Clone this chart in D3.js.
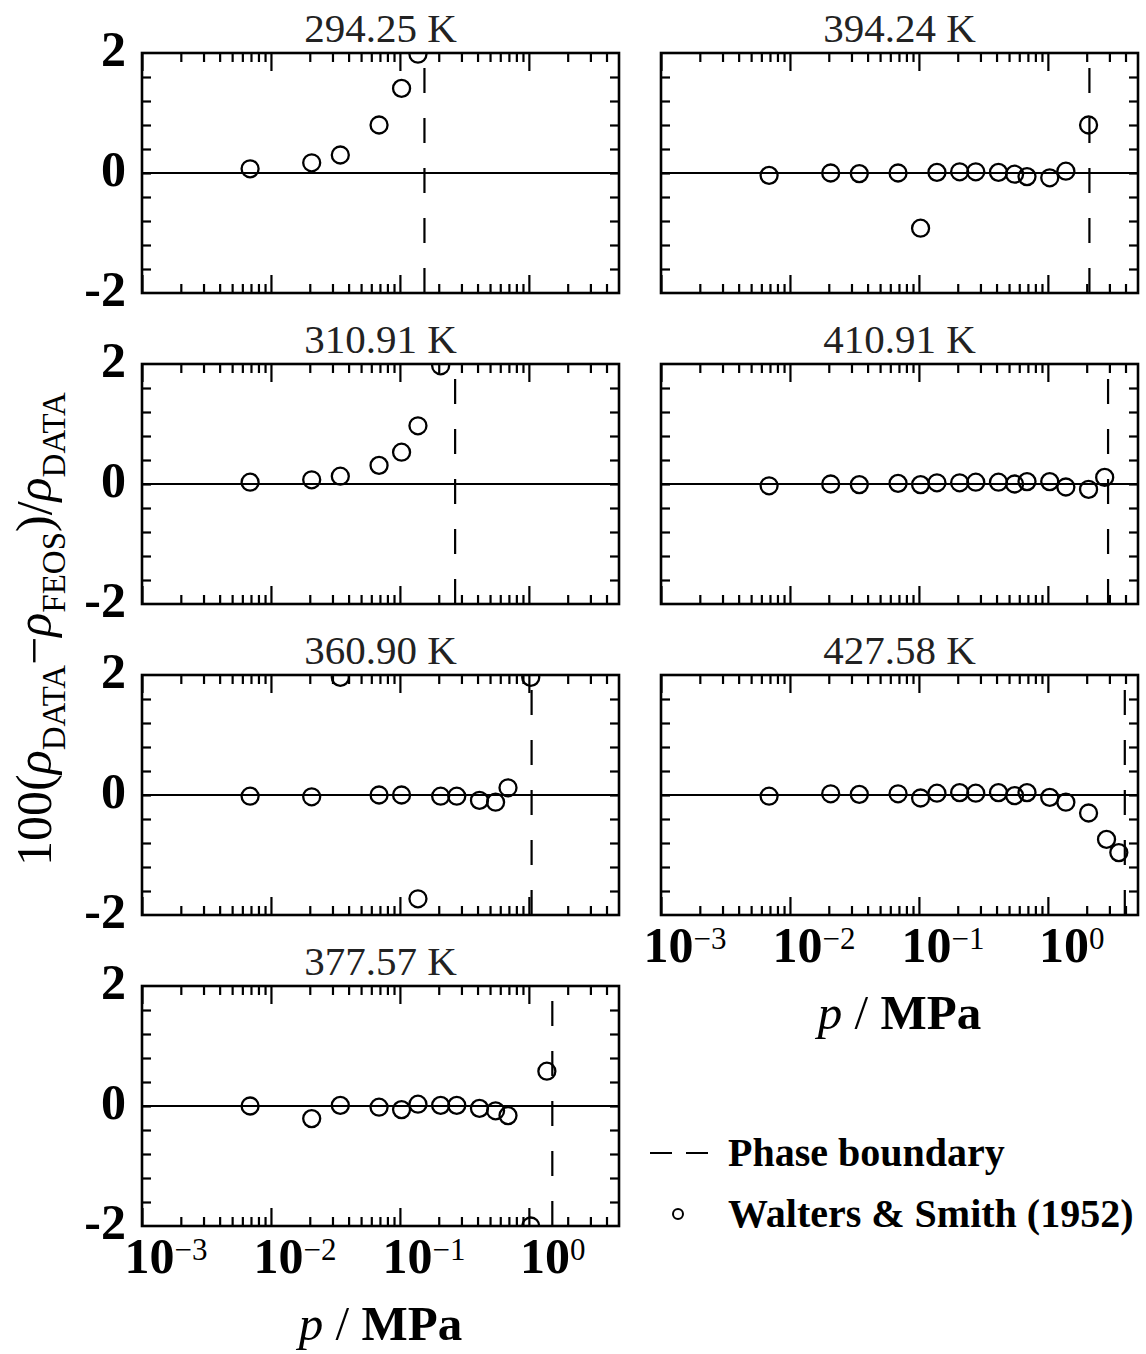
<!DOCTYPE html>
<html>
<head>
<meta charset="utf-8">
<script src="https://cdn.jsdelivr.net/npm/d3@7"></script>
<style>
  body { margin: 0; background: #fff; }
  text { font-family: "Liberation Serif", "Times New Roman", serif; }
</style>
</head>
<body>
<svg id="chart" width="1146" height="1354"></svg>
<script>
// pressures in MPa (1, 3, 5, 10, 15, 20, 30, 40, 60, 80, 100, 150, 200, 300, 400 psia ...)
let temps = ["294.25 K", "310.91 K", "360.90 K", "377.57 K", "394.24 K", "410.91 K", "427.58 K"];
let boundaries = [0.155, 0.268, 1.05, 1.52, 2.10, 2.93, 3.95];

let p294 = [0.00689, 0.0207, 0.0345, 0.0689, 0.103, 0.138];
let d294 = [0.07, 0.17, 0.30, 0.80, 1.41, 1.98];

let p310 = [0.00689, 0.0207, 0.0345, 0.0689, 0.103, 0.138, 0.207];
let d310 = [0.03, 0.07, 0.13, 0.31, 0.53, 0.97, 1.97];

let p360 = [0.00689, 0.0207, 0.0345, 0.0689, 0.103, 0.138, 0.207, 0.276, 0.414, 0.552, 0.689, 1.034];
let d360 = [-0.02, -0.03, 1.96, 0.0, 0.0, -1.73, -0.02, -0.02, -0.09, -0.12, 0.12, 1.96];

let p377 = [0.00689, 0.0207, 0.0345, 0.0689, 0.103, 0.138, 0.207, 0.276, 0.414, 0.552, 0.689, 1.034, 1.379];
let d377 = [0.0, -0.21, 0.01, -0.02, -0.06, 0.03, 0.01, 0.01, -0.04, -0.08, -0.16, -2.0, 0.58];

let p394 = [0.00689, 0.0207, 0.0345, 0.0689, 0.103, 0.138, 0.207, 0.276, 0.414, 0.552, 0.689, 1.034, 1.379, 2.068];
let d394 = [-0.04, 0.0, -0.01, 0.0, -0.92, 0.01, 0.02, 0.02, 0.01, -0.02, -0.06, -0.08, 0.03, 0.80];

let p410 = [0.00689, 0.0207, 0.0345, 0.0689, 0.103, 0.138, 0.207, 0.276, 0.414, 0.552, 0.689, 1.034, 1.379, 2.068, 2.758];
let d410 = [-0.03, 0.0, -0.01, 0.01, -0.01, 0.02, 0.02, 0.03, 0.03, 0.0, 0.04, 0.04, -0.05, -0.09, 0.11];

let p427 = [0.00689, 0.0207, 0.0345, 0.0689, 0.103, 0.138, 0.207, 0.276, 0.414, 0.552, 0.689, 1.034, 1.379, 2.068, 2.85, 3.55];
let d427 = [-0.02, 0.02, 0.01, 0.02, -0.05, 0.03, 0.04, 0.03, 0.04, -0.01, 0.04, -0.04, -0.12, -0.30, -0.74, -0.96];

let pressures = [p294, p310, p360, p377, p394, p410, p427];
let deviations = [d294, d310, d360, d377, d394, d410, d427];

let xDomain = [1e-3, 5];
let yDomain = [-2, 2];
let xMajor = [1e-3, 1e-2, 1e-1, 1];
let xExps = ["\u22123", "\u22122", "\u22121", "0"];
let yTicks = [-1.6, -1.2, -0.8, -0.4, 0, 0.4, 0.8, 1.2, 1.6];
let yLabels = [-2, 0, 2];

let colX = [142, 661];
let rowY = [53, 364, 675, 986];
let pw = 477, ph = 240;

let svg = d3.select("#chart");

let x = d3.scaleLog().domain(xDomain).range([0, pw]);
let y = d3.scaleLinear().domain(yDomain).range([ph, 0]);

// minor ticks 2..9 per decade, up to the domain end
let xMinor = [];
[1e-3, 1e-2, 1e-1, 1].forEach(function(dec) {
  for (let k = 2; k <= 9; k++) {
    if (k * dec < xDomain[1]) xMinor.push(k * dec);
  }
});

function styleAxis(g) {
  g.select(".domain").remove();
  g.selectAll("line").attr("stroke", "#000").attr("stroke-width", 2.2);
}

temps.forEach(function(t, i) {
  let col = i < 4 ? 0 : 1;
  let row = i < 4 ? i : i - 4;
  let g = svg.append("g").attr("transform", `translate(${colX[col]},${rowY[row]})`);

  g.append("clipPath").attr("id", "clip" + i)
    .append("rect").attr("width", pw).attr("height", ph);

  // zero line
  g.append("line")
    .attr("x1", 0).attr("x2", pw)
    .attr("y1", y(0)).attr("y2", y(0))
    .attr("stroke", "#000").attr("stroke-width", 2.2);

  // phase boundary
  g.append("line")
    .attr("x1", x(boundaries[i])).attr("x2", x(boundaries[i]))
    .attr("y1", ph).attr("y2", 0)
    .attr("stroke", "#000").attr("stroke-width", 2.2)
    .attr("stroke-dasharray", "25,25");

  // data
  let pts = pressures[i].map((p, j) => ({p: p, d: deviations[i][j]}));
  g.append("g").attr("clip-path", `url(#clip${i})`)
    .selectAll("circle").data(pts).enter().append("circle")
    .attr("cx", d => x(d.p))
    .attr("cy", d => y(d.d))
    .attr("r", 8.5)
    .attr("fill", "none")
    .attr("stroke", "#000")
    .attr("stroke-width", 2.3);

  // ticks
  g.append("g").attr("transform", `translate(0,${ph})`)
    .call(d3.axisBottom(x).tickValues(xMinor).tickSize(-9).tickFormat(""))
    .call(styleAxis);
  g.append("g").attr("transform", `translate(0,${ph})`)
    .call(d3.axisBottom(x).tickValues(xMajor).tickSize(-18).tickFormat(""))
    .call(styleAxis);
  g.append("g")
    .call(d3.axisTop(x).tickValues(xMinor).tickSize(-9).tickFormat(""))
    .call(styleAxis);
  g.append("g")
    .call(d3.axisTop(x).tickValues(xMajor).tickSize(-18).tickFormat(""))
    .call(styleAxis);
  g.append("g")
    .call(d3.axisLeft(y).tickValues(yTicks).tickSize(-9).tickFormat(""))
    .call(styleAxis);
  g.append("g").attr("transform", `translate(${pw},0)`)
    .call(d3.axisRight(y).tickValues(yTicks).tickSize(-9).tickFormat(""))
    .call(styleAxis);

  // frame
  g.append("rect")
    .attr("width", pw).attr("height", ph)
    .attr("fill", "none").attr("stroke", "#000").attr("stroke-width", 2.6);

  // title
  g.append("text")
    .attr("x", pw / 2).attr("y", -11)
    .attr("text-anchor", "middle")
    .attr("font-size", 41)
    .attr("fill", "#222")
    .text(t);

  if (col === 0) {
    g.selectAll(".ylab").data(yLabels).enter().append("text")
      .attr("class", "ylab")
      .attr("x", -16).attr("y", d => y(d) + 13)
      .attr("text-anchor", "end")
      .attr("font-size", 50).attr("font-weight", "bold")
      .text(d => d < 0 ? "-" + Math.abs(d) : d);
  }

  if (row === (col === 0 ? 3 : 2)) {
    let lab = g.selectAll(".xlab").data(xMajor).enter().append("text")
      .attr("class", "xlab")
      .attr("x", d => x(d) + 24).attr("y", ph + 47)
      .attr("text-anchor", "middle")
      .attr("font-size", 50).attr("font-weight", "bold");
    lab.append("tspan").text("10");
    lab.append("tspan")
      .attr("font-size", 31).attr("font-weight", "normal")
      .attr("dy", -13)
      .text((d, j) => xExps[j]);

    let xt = g.append("text")
      .attr("x", pw / 2).attr("y", ph + 114)
      .attr("text-anchor", "middle")
      .attr("font-size", 49);
    xt.append("tspan").attr("font-style", "italic").text("p");
    xt.append("tspan").text(" / ");
    xt.append("tspan").attr("font-weight", "bold").text("MPa");
  }
});

// y axis title
let yt = svg.append("text")
  .attr("transform", "translate(51,629) rotate(-90)")
  .attr("text-anchor", "middle")
  .attr("font-size", 50);
let parts = [
  {t: "100(", s: 0},
  {t: "\u03c1", s: 0, it: true},
  {t: "DATA", s: 1},
  {t: "\u2212", s: 0},
  {t: "\u03c1", s: 0, it: true},
  {t: "FEOS", s: 1},
  {t: ")/", s: 0},
  {t: "\u03c1", s: 0, it: true},
  {t: "DATA", s: 1}
];
let prev = 0;
parts.forEach(function(q) {
  let ts = yt.append("tspan").text(q.t);
  if (q.it) ts.attr("font-style", "italic");
  if (q.s) ts.attr("font-size", 33);
  let dy = (q.s - prev) * 14;
  if (dy !== 0) ts.attr("dy", dy);
  prev = q.s;
});

// legend
svg.append("line")
  .attr("x1", 650).attr("x2", 708)
  .attr("y1", 1153).attr("y2", 1153)
  .attr("stroke", "#000").attr("stroke-width", 2)
  .attr("stroke-dasharray", "22,14");
svg.append("text")
  .attr("x", 728).attr("y", 1166)
  .attr("font-size", 40).attr("font-weight", "bold")
  .text("Phase boundary");
svg.append("circle")
  .attr("cx", 678).attr("cy", 1214).attr("r", 5)
  .attr("fill", "none").attr("stroke", "#000").attr("stroke-width", 2);
svg.append("text")
  .attr("x", 728).attr("y", 1227)
  .attr("font-size", 40).attr("font-weight", "bold")
  .text("Walters & Smith (1952)");
</script>
</body>
</html>
